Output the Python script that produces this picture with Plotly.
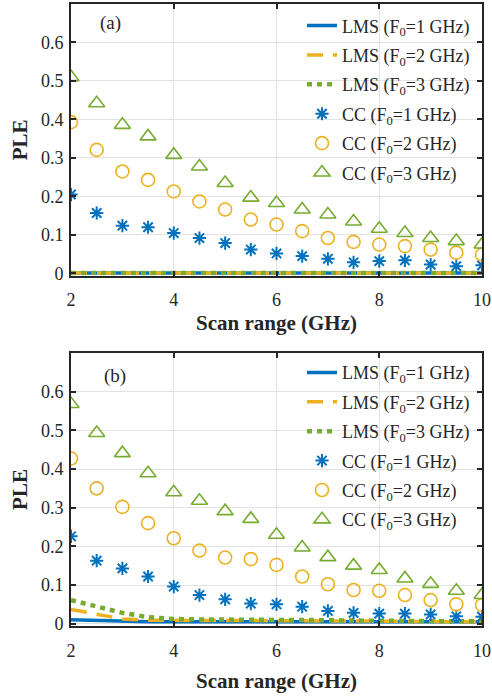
import plotly.graph_objects as go
from plotly.subplots import make_subplots

scan_range = [2, 2.5, 3, 3.5, 4, 4.5, 5, 5.5, 6, 6.5, 7, 7.5, 8, 8.5, 9, 9.5, 10]

# Panel (a)
lms1_a = [0.001, 0.001, 0.001, 0.001, 0.001, 0.001, 0.001, 0.001, 0.001, 0.001, 0.001, 0.001, 0.001, 0.001, 0.001, 0.001, 0.001]
lms2_a = [0.001, 0.001, 0.001, 0.001, 0.001, 0.001, 0.001, 0.001, 0.001, 0.001, 0.001, 0.001, 0.001, 0.001, 0.001, 0.001, 0.001]
lms3_a = [0.001, 0.001, 0.001, 0.001, 0.001, 0.001, 0.001, 0.001, 0.001, 0.001, 0.001, 0.001, 0.001, 0.001, 0.001, 0.001, 0.001]
cc1_a = [0.205, 0.157, 0.124, 0.120, 0.105, 0.092, 0.079, 0.062, 0.052, 0.045, 0.038, 0.029, 0.032, 0.034, 0.023, 0.019, 0.021]
cc2_a = [0.393, 0.321, 0.265, 0.243, 0.213, 0.187, 0.166, 0.140, 0.127, 0.110, 0.092, 0.082, 0.075, 0.071, 0.062, 0.054, 0.049]
cc3_a = [0.510, 0.442, 0.386, 0.356, 0.308, 0.278, 0.235, 0.197, 0.183, 0.166, 0.153, 0.135, 0.116, 0.105, 0.092, 0.084, 0.075]

# Panel (b)
lms1_b = [0.010, 0.008, 0.005, 0.005, 0.005, 0.005, 0.005, 0.005, 0.005, 0.005, 0.005, 0.005, 0.005, 0.005, 0.005, 0.005, 0.005]
lms2_b = [0.037, 0.024, 0.012, 0.009, 0.008, 0.008, 0.008, 0.008, 0.007, 0.007, 0.007, 0.007, 0.006, 0.006, 0.006, 0.005, 0.005]
lms3_b = [0.061, 0.044, 0.028, 0.017, 0.012, 0.011, 0.011, 0.010, 0.010, 0.009, 0.009, 0.008, 0.008, 0.007, 0.007, 0.006, 0.006]
cc1_b = [0.226, 0.163, 0.143, 0.122, 0.096, 0.074, 0.063, 0.052, 0.050, 0.044, 0.033, 0.028, 0.026, 0.026, 0.024, 0.019, 0.018]
cc2_b = [0.427, 0.350, 0.302, 0.260, 0.221, 0.189, 0.171, 0.167, 0.152, 0.122, 0.102, 0.087, 0.085, 0.074, 0.061, 0.050, 0.048]
cc3_b = [0.568, 0.493, 0.441, 0.389, 0.340, 0.318, 0.291, 0.271, 0.230, 0.197, 0.172, 0.150, 0.139, 0.117, 0.103, 0.085, 0.074]

y_ticks = [0, 0.1, 0.2, 0.3, 0.4, 0.5, 0.6]
y_tick_text = ["0", "0.1", "0.2", "0.3", "0.4", "0.5", "0.6"]
x_ticks = [2, 4, 6, 8, 10]
x_tick_text = ["2", "4", "6", "8", "10"]

names = ["LMS (F<sub>0</sub>=1 GHz)", "LMS (F<sub>0</sub>=2 GHz)", "LMS (F<sub>0</sub>=3 GHz)",
         "CC (F<sub>0</sub>=1 GHz)", "CC (F<sub>0</sub>=2 GHz)", "CC (F<sub>0</sub>=3 GHz)"]

BLUE = "#0072BD"
YEL = "#EDB120"
GRN = "#77AC30"
FONT = "Liberation Serif, Times New Roman, serif"

fig = make_subplots(rows=2, cols=1, vertical_spacing=0.12)

def add_panel(row, lms, cc, legend):
    line_styles = [
        dict(color=BLUE, width=3.5, dash="solid"),
        dict(color=YEL, width=3.5, dash="16px,10px"),
        dict(color=GRN, width=4.5, dash="5px,5px"),
    ]
    for i in range(3):
        fig.add_trace(go.Scatter(x=scan_range, y=lms[i], mode="lines", name=names[i],
                                 line=line_styles[i], legend=legend,
                                 legendgroup=f"{legend}_{i}"), row=row, col=1)
    markers = [
        dict(symbol="asterisk-open", size=11, color=BLUE, line=dict(color=BLUE, width=2)),
        dict(symbol="circle-open", size=13, color=YEL, line=dict(color=YEL, width=1.6)),
        dict(symbol="triangle-up-open", size=14, color=GRN, line=dict(color=GRN, width=1.6)),
    ]
    for i in range(3):
        fig.add_trace(go.Scatter(x=scan_range, y=cc[i], mode="markers", name=names[3 + i],
                                 marker=markers[i], legend=legend,
                                 legendgroup=f"{legend}_{3 + i}"), row=row, col=1)

add_panel(1, [lms1_a, lms2_a, lms3_a], [cc1_a, cc2_a, cc3_a], "legend")
add_panel(2, [lms1_b, lms2_b, lms3_b], [cc1_b, cc2_b, cc3_b], "legend2")

axis_common = dict(showline=True, linecolor="#262626", linewidth=2, mirror="allticks",
                   ticks="inside", ticklen=5, tickwidth=1.5, tickcolor="#262626",
                   showgrid=True, gridcolor="#e3e3e3", gridwidth=1, zeroline=False,
                   automargin=False,
                   tickfont=dict(family=FONT, size=18, color="#262626"))

for r, st in ((1, 6), (2, 14)):
    fig.update_xaxes(range=[2, 10], tickvals=x_ticks, ticktext=x_tick_text,
                     title=dict(text="<b>Scan range (GHz)</b>", font=dict(family=FONT, size=21, color="#262626"), standoff=st),
                     ticklabelstandoff=7, **axis_common, row=r, col=1)
    fig.update_yaxes(range=[-0.006, 0.7], tickvals=y_ticks, ticktext=y_tick_text,
                     title=dict(text="<b>PLE</b>", font=dict(family=FONT, size=21, color="#262626"), standoff=8),
                     ticklabelstandoff=2, **axis_common, row=r, col=1)

fig.update_layout(
    width=492, height=698,
    margin=dict(l=71, r=10, t=4, b=72, autoexpand=False),
    plot_bgcolor="white", paper_bgcolor="white",
    font=dict(family=FONT, size=18, color="#262626"),
    xaxis=dict(domain=[0, 1]), yaxis=dict(domain=[0.5631, 1]),
    xaxis2=dict(domain=[0, 1]), yaxis2=dict(domain=[0, 0.4389]),
    legend=dict(x=0.562, xanchor="left", y=0.9946, yanchor="top", bgcolor="rgba(0,0,0,0)",
                font=dict(family=FONT, size=18, color="#262626"), tracegroupgap=3),
    legend2=dict(x=0.562, xanchor="left", y=0.437, yanchor="top", bgcolor="rgba(0,0,0,0)",
                 font=dict(family=FONT, size=18, color="#262626"), tracegroupgap=3),
    annotations=[
        dict(text="(a)", xref="x", yref="y", x=2.77, y=0.65, showarrow=False,
             font=dict(family=FONT, size=19, color="#262626")),
        dict(text="(b)", xref="x2", yref="y2", x=2.85, y=0.64, showarrow=False,
             font=dict(family=FONT, size=19, color="#262626")),
    ],
)

fig.write_html("out.html", config={"displayModeBar": False},
               post_script="document.body.style.margin='0px';")
